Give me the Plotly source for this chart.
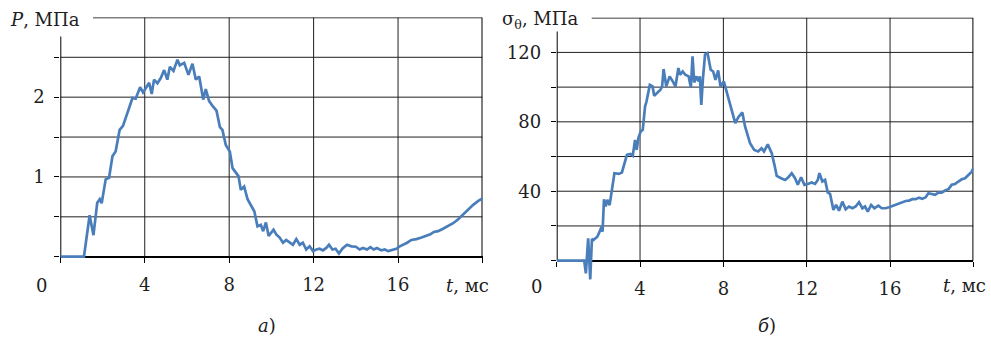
import plotly.graph_objects as go

# --- a) pressure P, MPa versus time t, ms
t_p = [0, 1.12, 1.39, 1.57, 1.75, 1.87, 1.96, 2.15, 2.31, 2.47, 2.62, 2.81, 2.97, 3.18,
       3.42, 3.57, 3.78, 3.92, 4.08, 4.21, 4.33, 4.44, 4.60, 4.76, 4.92, 5.07, 5.19, 5.36,
       5.55, 5.66, 5.87, 6.07, 6.26, 6.42, 6.58, 6.77, 6.89, 7.05, 7.24, 7.40, 7.56, 7.68,
       7.84, 8.03, 8.16, 8.31, 8.44, 8.55, 8.71, 8.87, 9.03, 9.19, 9.34, 9.50, 9.61, 9.74,
       9.87, 10.10, 10.23, 10.39, 10.55, 10.70, 10.86, 11.02, 11.18, 11.34, 11.49, 11.65,
       11.81, 11.97, 12.13, 12.28, 12.44, 12.60, 12.73, 12.89, 13.04, 13.20, 13.36, 13.58,
       13.79, 14.00, 14.18, 14.34, 14.53, 14.69, 14.85, 15.00, 15.21, 15.37, 15.53, 15.73,
       15.92, 16.08, 16.24, 16.43, 16.63, 16.87, 17.11, 17.34, 17.53, 17.69, 17.90, 18.13,
       18.37, 18.61, 18.85, 19.08, 19.32, 19.56, 19.80, 20.0]
pressure = [0, 0, 0.52, 0.27, 0.675, 0.72, 0.67, 0.97, 0.99, 1.26, 1.32, 1.59, 1.64, 1.80,
            1.99, 1.98, 2.125, 2.06, 2.125, 2.18, 2.04, 2.22, 2.175, 2.24, 2.34, 2.22, 2.38, 2.33,
            2.47, 2.40, 2.43, 2.28, 2.42, 2.22, 2.26, 1.97, 2.10, 1.95, 1.88, 1.83, 1.625, 1.59,
            1.40, 1.32, 1.11, 1.06, 1.01, 0.84, 0.88, 0.72, 0.64, 0.57, 0.38, 0.40, 0.32, 0.43,
            0.26, 0.34, 0.28, 0.24, 0.175, 0.21, 0.18, 0.15, 0.22, 0.15, 0.175, 0.09,
            0.13, 0.07, 0.09, 0.10, 0.08, 0.11, 0.15, 0.09, 0.10, 0.04, 0.10, 0.15,
            0.13, 0.125, 0.09, 0.11, 0.09, 0.12, 0.09, 0.11, 0.08, 0.09, 0.07, 0.09,
            0.10, 0.13, 0.15, 0.175, 0.21, 0.22, 0.24, 0.26, 0.28, 0.31, 0.32, 0.35,
            0.38, 0.42, 0.47, 0.53, 0.59, 0.65, 0.70, 0.73]

# --- б) hoop stress sigma_theta, MPa versus time t, ms
t_s = [0, 1.32, 1.40, 1.51, 1.61, 1.69, 1.76, 1.95, 2.08, 2.16, 2.20, 2.27, 2.35, 2.43,
       2.54, 2.61, 2.77, 2.98, 3.13, 3.37, 3.53, 3.65, 3.76, 3.84, 3.92, 4.03, 4.13, 4.24,
       4.31, 4.47, 4.60, 4.68, 4.83, 4.98, 5.06, 5.13, 5.26, 5.42, 5.57, 5.70, 5.84, 5.92,
       6.05, 6.17, 6.33, 6.44, 6.52, 6.60, 6.71, 6.80, 6.87, 6.94, 7.02, 7.12, 7.24, 7.39,
       7.51, 7.62, 7.75, 7.86, 8.02, 8.17, 8.33, 8.57, 8.72, 8.91, 9.04, 9.17, 9.28, 9.48,
       9.67, 9.83, 9.95, 10.13, 10.32, 10.45, 10.56, 10.77, 10.96, 11.12, 11.28, 11.44,
       11.57, 11.73, 11.89, 12.05, 12.24, 12.40, 12.53, 12.61, 12.75, 12.88, 13.01, 13.12,
       13.28, 13.41, 13.55, 13.71, 13.87, 14.03, 14.19, 14.35, 14.51, 14.67, 14.80, 14.93,
       15.09, 15.25, 15.44, 15.60, 15.79, 15.95, 16.11, 16.27, 16.43, 16.59, 16.75, 16.91,
       17.07, 17.23, 17.39, 17.55, 17.71, 17.84, 18.00, 18.16, 18.32, 18.48, 18.64, 18.80,
       18.96, 19.12, 19.28, 19.44, 19.60, 19.76, 19.92, 20.0]
stress = [0, 0, -7.3, 12.9, -10.8, 12.5, 11.9, 13.8, 17.3, 19.6, 16.7, 35.4, 31.2, 35.0,
          32.0, 36.9, 50.4, 50.0, 50.8, 61.0, 61.5, 60.4, 69.6, 63.8, 70.6, 74.4, 75.4, 88.8,
          91.7, 101.3, 100.4, 95.0, 96.9, 98.5, 100.4, 110.4, 100.4, 106.2, 103.3, 100.4, 111.0, 107.1,
          109.0, 107.1, 106.2, 99.8, 117.7, 102.7, 106.2, 103.3, 106.2, 89.8, 105.2, 118.7, 119.6, 110.0,
          109.0, 104.2, 109.6, 100.4, 103.3, 96.5, 89.8, 79.2, 82.7, 85.4, 77.3, 71.5, 67.7, 63.8,
          62.9, 64.8, 62.9, 67.0, 61.9, 55.2, 48.8, 47.5, 46.5, 48.1, 50.4, 47.5,
          43.7, 48.1, 43.7, 44.2, 45.0, 44.2, 46.5, 50.4, 45.6, 46.5, 39.2, 38.5,
          29.2, 32.1, 28.8, 34.0, 29.6, 31.2, 30.2, 31.2, 33.7, 30.2, 31.2, 28.3,
          32.1, 30.2, 31.7, 30.2, 30.2, 30.8, 31.5, 32.1, 32.7, 33.5, 34.4, 34.6,
          35.4, 35.4, 36.3, 35.6, 36.5, 38.8, 38.5, 37.9, 39.2, 39.2, 40.4, 41.2,
          43.7, 44.2, 45.6, 46.9, 47.5, 49.4, 51.3, 53.3]

# labelled ticks and the full set of tick marks / grid positions
t_labels = [4, 8, 12, 16]
t_marks = [0, 4, 8, 12, 16, 20]
p_labels = [1, 2]
p_marks = [0, 0.5, 1, 1.5, 2, 2.5]
s_labels = [40, 80, 120]
s_marks = [0, 20, 40, 60, 80, 100, 120]

W, H = 991, 338
FONT = "DejaVu Serif"
FS = 18
TXT = "#1e1e1e"
LINE = "#4a7ebb"
GRID = "#1f1f1f"


def px(x):
    return x / W


def py(y):
    return 1 - y / H


fig = go.Figure()
fig.add_trace(go.Scatter(x=t_p, y=pressure, mode="lines", xaxis="x", yaxis="y",
                         line=dict(color=LINE, width=2.7), hoverinfo="skip"))
fig.add_trace(go.Scatter(x=t_s, y=stress, mode="lines", xaxis="x2", yaxis="y2",
                         line=dict(color=LINE, width=2.7), hoverinfo="skip"))


def frame(xr, yr, ymarks, ytop, top_start, left_top):
    shapes = []
    for v in ymarks[1:]:
        shapes.append(dict(type="line", xref=xr, yref=yr, x0=0, x1=20, y0=v, y1=v,
                           line=dict(color=GRID, width=1), layer="below"))
    for v in t_marks[1:-1]:
        shapes.append(dict(type="line", xref=xr, yref=yr, x0=v, x1=v, y0=0, y1=ytop,
                           line=dict(color=GRID, width=1), layer="below"))
    shapes.append(dict(type="line", xref=xr, yref=yr, x0=top_start, x1=20, y0=ytop, y1=ytop,
                       line=dict(color="black", width=1.6), layer="below"))
    shapes.append(dict(type="line", xref=xr, yref=yr, x0=20, x1=20, y0=0, y1=ytop,
                       line=dict(color="black", width=2), layer="below"))
    shapes.append(dict(type="line", xref=xr, yref=yr, x0=0, x1=0, y0=0, y1=left_top,
                       line=dict(color="black", width=2), layer="below"))
    return shapes


shapes = frame("x", "y", p_marks, 3.0, 1.55, 2.76) + \
    frame("x2", "y2", s_marks, 140, 1.68, 132)

tick_font = dict(family=FONT, size=FS, color=TXT)
xcommon = dict(range=[0, 20], tickmode="array", tickvals=t_labels, ticks="outside",
               ticklen=5, tickwidth=1, tickcolor="black",
               minor=dict(tickmode="array", tickvals=t_marks, ticks="outside", ticklen=5,
                          tickwidth=1, tickcolor="black", showgrid=False),
               showline=True, linecolor="black", linewidth=2, showgrid=False,
               zeroline=False, anchor="free", layer="below traces",
               ticklabelstandoff=7, tickfont=tick_font, fixedrange=True)


def ycommon(labels, marks):
    return dict(tickmode="array", tickvals=labels, ticks="outside", ticklen=5, tickwidth=1,
                tickcolor="black",
                minor=dict(tickmode="array", tickvals=marks, ticks="outside", ticklen=5,
                           tickwidth=1, tickcolor="black", showgrid=False),
                showline=False, showgrid=False, zeroline=False, ticklabelstandoff=6,
                tickfont=tick_font, fixedrange=True)


fig.update_layout(
    width=W, height=H, margin=dict(l=0, r=0, t=0, b=0),
    paper_bgcolor="white", plot_bgcolor="rgba(0,0,0,0)", showlegend=False,
    xaxis=dict(domain=[px(60.3), px(482.5)], position=py(256.7), **xcommon),
    yaxis=dict(domain=[py(261.5), py(17.4)], range=[-0.06, 3.0], anchor="x",
               **ycommon(p_labels, p_marks)),
    xaxis2=dict(domain=[px(556.7), px(973.4)], position=py(260.7), **xcommon),
    yaxis2=dict(domain=[py(283.2), py(17.7)], range=[-13, 140], anchor="x2",
                **ycommon(s_labels, s_marks)),
    shapes=shapes,
)

ann_font = dict(family=FONT, size=FS, color=TXT)
annotations = [
    dict(text="<i>P</i>, МПа", x=px(8), y=py(20), xanchor="left", yanchor="middle"),
    dict(text="σ<sub>θ</sub>, МПа", x=px(500), y=py(20), xanchor="left", yanchor="middle"),
    dict(text="0", x=px(41.7), y=py(285), xanchor="center", yanchor="middle"),
    dict(text="0", x=px(536), y=py(286), xanchor="center", yanchor="middle"),
    dict(text="<i>t</i>, мс", x=px(467), y=py(285), xanchor="center", yanchor="middle"),
    dict(text="<i>t</i>, мс", x=px(964), y=py(285), xanchor="center", yanchor="middle"),
    dict(text="<i>а</i>)", x=px(267), y=py(325), xanchor="center", yanchor="middle"),
    dict(text="<i>б</i>)", x=px(767), y=py(325), xanchor="center", yanchor="middle"),
]
for a in annotations:
    a.update(xref="paper", yref="paper", showarrow=False, font=ann_font)
fig.update_layout(annotations=annotations)

fig.write_html("out.html")
